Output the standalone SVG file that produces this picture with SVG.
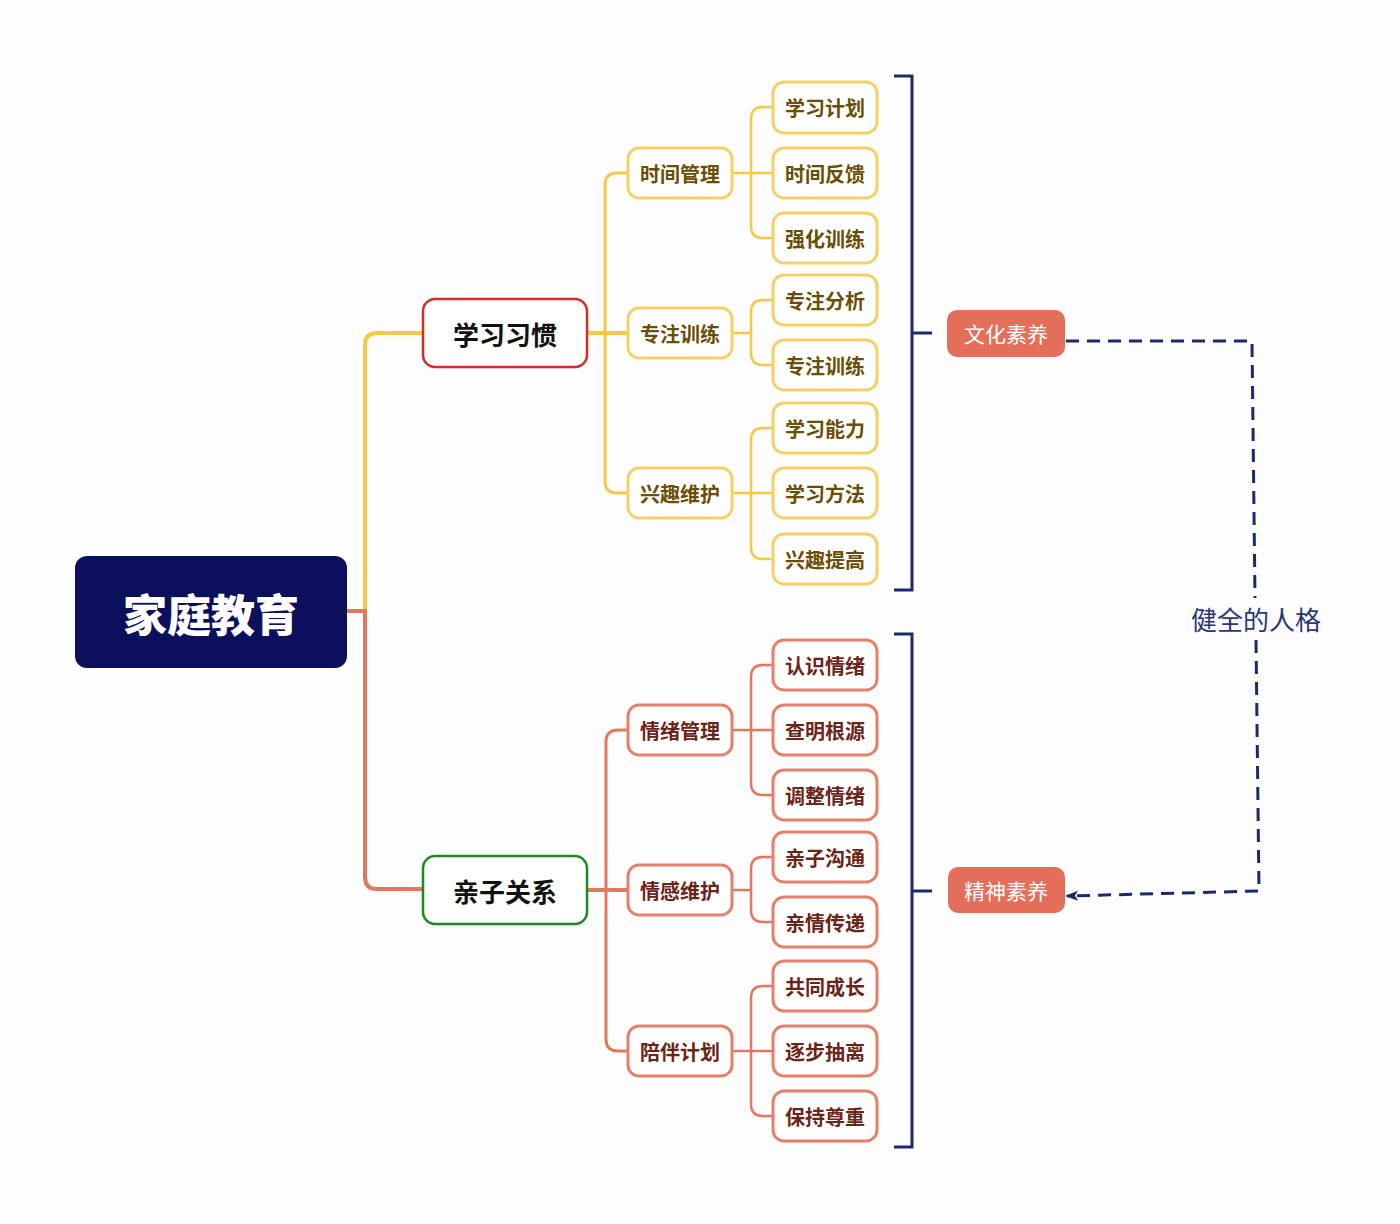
<svg xmlns="http://www.w3.org/2000/svg" width="1400" height="1224" viewBox="0 0 1400 1224">
<defs>
<style>
text{font-family:"Noto Sans CJK SC","Noto Sans",sans-serif;text-anchor:middle;dominant-baseline:central}
.root rect{fill:#0b0f5c}
.root text{fill:#fff;font-size:44px;font-weight:900}
.l1 rect{fill:#fff;stroke-width:2.5}
.l1 text{fill:#111;font-size:26px;font-weight:700}
.y rect{fill:#fff;stroke:#f6d066;stroke-width:3}
.y text{fill:#6a4e05;font-size:20px;font-weight:700}
.o rect{fill:#fff;stroke:#e5806a;stroke-width:3}
.o text{fill:#6b2418;font-size:20px;font-weight:700}
.tag rect{fill:#e36f5a}
.tag text{fill:#fff;font-size:21px}
.cy{fill:none;stroke:#f5c945;stroke-linecap:round}
.co{fill:none;stroke:#e2795e;stroke-linecap:round}
.br{fill:none;stroke:#1b2a6b;stroke-width:3}
.dash{fill:none;stroke:#1b2a6b;stroke-width:3;stroke-dasharray:13 8}
</style>
<marker id="ah" markerWidth="14" markerHeight="12" refX="11" refY="6" orient="auto" markerUnits="userSpaceOnUse">
<path d="M0,1 L13,6 L0,11 L3,6 Z" fill="#1b2a6b"/>
</marker>
</defs>
<rect width="1400" height="1224" fill="#fdfdfd"/>

<g id="connectors">
<path class="cy" stroke-width="4" d="M365,611 V345 Q365,333 377,333 H423"/>
<path class="co" stroke-width="4" d="M347,611 H365 V877 Q365,889 377,889 H423"/>
<path class="cy" stroke-width="4" d="M587,333 H628"/>
<path class="cy" stroke-width="3" d="M628,173 H617 Q605,173 605,185 V481 Q605,493 617,493 H628"/>
<path class="co" stroke-width="4" d="M587,890 H628"/>
<path class="co" stroke-width="3" d="M628,730 H618 Q606,730 606,742 V1039 Q606,1051 618,1051 H628"/>
<path class="cy" stroke-width="2.5" d="M732,173 H773 M773,107 H763 Q751,107 751,119 V226 Q751,238 763,238 H773"/>
<path class="cy" stroke-width="2.5" d="M732,333 H751 M773,300 H763 Q751,300 751,312 V353 Q751,365 763,365 H773"/>
<path class="cy" stroke-width="2.5" d="M732,493 H773 M773,428 H763 Q751,428 751,440 V547 Q751,559 763,559 H773"/>
<path class="co" stroke-width="2.5" d="M732,730 H773 M773,665 H763 Q751,665 751,677 V783 Q751,795 763,795 H773"/>
<path class="co" stroke-width="2.5" d="M732,890 H751 M773,857 H763 Q751,857 751,869 V910 Q751,922 763,922 H773"/>
<path class="co" stroke-width="2.5" d="M732,1051 H773 M773,986 H763 Q751,986 751,998 V1104 Q751,1116 763,1116 H773"/>
<path class="br" d="M894,76 H912 V590 H894 M912,333 H932"/>
<path class="br" d="M894,634 H912 V1147 H894 M912,891 H932"/>
<path class="dash" d="M1066,341 H1252 L1255,598"/>
<path class="dash" marker-end="url(#ah)" d="M1256,640 L1259,891 L1067,896"/>
<text x="1256" y="618" fill="#2a3878" font-size="26">健全的人格</text>
</g>

<g id="root" class="root"><rect x="75" y="556" width="272" height="112" rx="12"/><text x="211" y="613">家庭教育</text></g>
<g id="n-xxxg" class="l1"><rect x="423" y="299" width="164" height="68" rx="12" stroke="#d42b2b"/><text x="505" y="333">学习习惯</text></g>
<g id="n-qzgx" class="l1"><rect x="423" y="856" width="164" height="68" rx="12" stroke="#1f8a23"/><text x="505" y="890">亲子关系</text></g>

<g id="n-sjgl" class="y"><rect x="628" y="148" width="104" height="50" rx="11"/><text x="680" y="173">时间管理</text></g>
<g id="n-zzxl" class="y"><rect x="628" y="308" width="104" height="50" rx="11"/><text x="680" y="333">专注训练</text></g>
<g id="n-qqwh" class="y"><rect x="628" y="468" width="104" height="50" rx="11"/><text x="680" y="493">兴趣维护</text></g>

<g id="n-xxjh" class="y"><rect x="773" y="82" width="104" height="51" rx="11"/><text x="825" y="107">学习计划</text></g>
<g id="n-sjfk" class="y"><rect x="773" y="148" width="104" height="50" rx="11"/><text x="825" y="173">时间反馈</text></g>
<g id="n-qhxl" class="y"><rect x="773" y="213" width="104" height="50" rx="11"/><text x="825" y="238">强化训练</text></g>
<g id="n-zzfx" class="y"><rect x="773" y="275" width="104" height="50" rx="11"/><text x="825" y="300">专注分析</text></g>
<g id="n-zzxl2" class="y"><rect x="773" y="340" width="104" height="50" rx="11"/><text x="825" y="365">专注训练</text></g>
<g id="n-xxnl" class="y"><rect x="773" y="403" width="104" height="50" rx="11"/><text x="825" y="428">学习能力</text></g>
<g id="n-xxff" class="y"><rect x="773" y="468" width="104" height="50" rx="11"/><text x="825" y="493">学习方法</text></g>
<g id="n-xqtg" class="y"><rect x="773" y="534" width="104" height="50" rx="11"/><text x="825" y="559">兴趣提高</text></g>

<g id="n-qxgl" class="o"><rect x="628" y="705" width="104" height="50" rx="11"/><text x="680" y="730">情绪管理</text></g>
<g id="n-qgwh" class="o"><rect x="628" y="865" width="104" height="50" rx="11"/><text x="680" y="890">情感维护</text></g>
<g id="n-pbjh" class="o"><rect x="628" y="1026" width="104" height="50" rx="11"/><text x="680" y="1051">陪伴计划</text></g>

<g id="n-rsqx" class="o"><rect x="773" y="640" width="104" height="50" rx="11"/><text x="825" y="665">认识情绪</text></g>
<g id="n-cmgy" class="o"><rect x="773" y="705" width="104" height="50" rx="11"/><text x="825" y="730">查明根源</text></g>
<g id="n-tzqx" class="o"><rect x="773" y="770" width="104" height="50" rx="11"/><text x="825" y="795">调整情绪</text></g>
<g id="n-qzgt" class="o"><rect x="773" y="832" width="104" height="50" rx="11"/><text x="825" y="857">亲子沟通</text></g>
<g id="n-qqcd" class="o"><rect x="773" y="897" width="104" height="50" rx="11"/><text x="825" y="922">亲情传递</text></g>
<g id="n-gtcz" class="o"><rect x="773" y="961" width="104" height="50" rx="11"/><text x="825" y="986">共同成长</text></g>
<g id="n-zbcl" class="o"><rect x="773" y="1026" width="104" height="50" rx="11"/><text x="825" y="1051">逐步抽离</text></g>
<g id="n-bczz" class="o"><rect x="773" y="1091" width="104" height="50" rx="11"/><text x="825" y="1116">保持尊重</text></g>

<g id="t-whsy" class="tag"><rect x="947" y="310" width="118" height="47" rx="10"/><text x="1006" y="333">文化素养</text></g>
<g id="t-jssy" class="tag"><rect x="948" y="867" width="117" height="46" rx="10"/><text x="1006" y="890">精神素养</text></g>
</svg>
